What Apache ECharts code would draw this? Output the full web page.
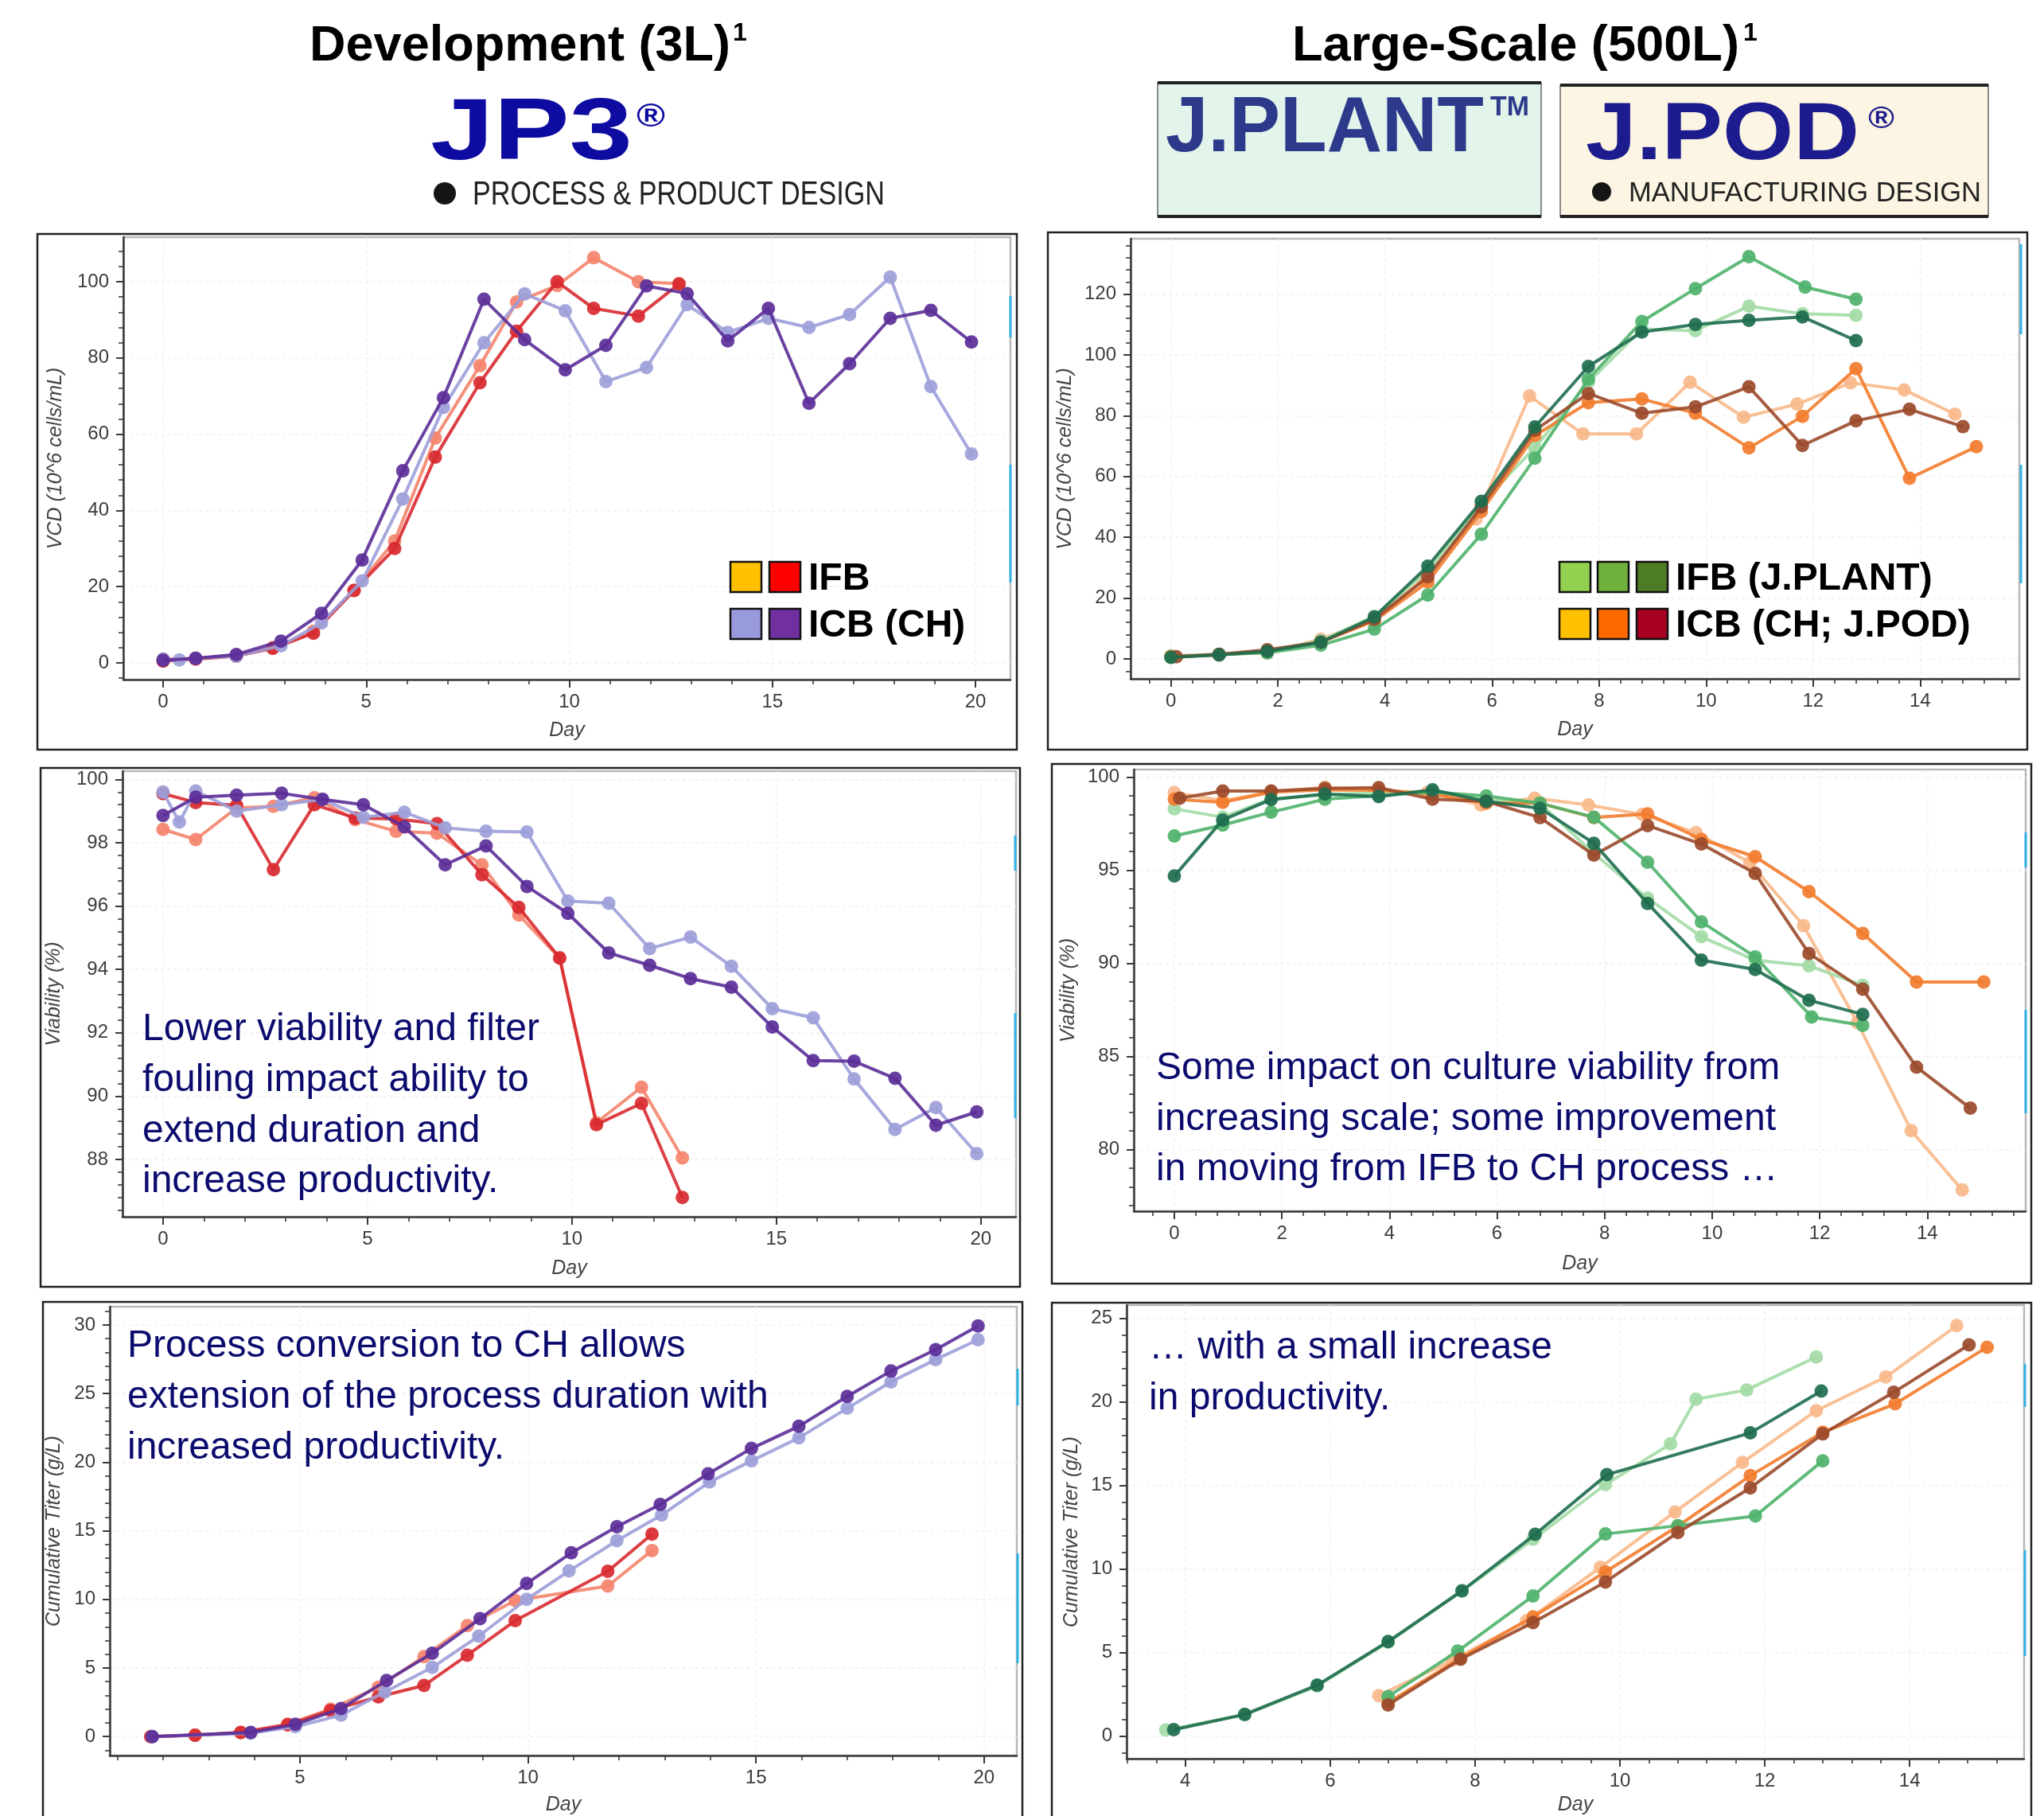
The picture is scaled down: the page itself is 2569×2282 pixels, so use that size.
<!DOCTYPE html>
<html><head><meta charset="utf-8">
<script src="https://cdn.jsdelivr.net/npm/echarts@6/dist/echarts.min.js"></script>
<style>html,body{margin:0;padding:0;background:#fff}#c{width:2569px;height:2282px}</style>
</head><body><div id="c"></div><script>
// ---------------- DATA ----------------
// Tick labels
const devDayTicks = [0, 5, 10, 15, 20];
const lgDayTicks = [0, 2, 4, 6, 8, 10, 12, 14];
const titDevDayTicks = [5, 10, 15, 20];
const titLgDayTicks = [4, 6, 8, 10, 12, 14];
const vcdDevTicks = [0, 20, 40, 60, 80, 100];
const vcdLgTicks = [0, 20, 40, 60, 80, 100, 120];
const viaDevTicks = [88, 90, 92, 94, 96, 98, 100];
const viaLgTicks = [80, 85, 90, 95, 100];
const titDevTicks = [0, 5, 10, 15, 20, 25, 30];
const titLgTicks = [0, 5, 10, 15, 20, 25];

// Development (3L) VCD [day, 10^6 cells/mL]
const vcdDevIFB1 = [[0,1],[0.8,1.2],[1.8,2],[2.7,4],[3.7,8.3],[4.7,19],[5.7,32],[6.7,59],[7.8,78],[8.7,94.7],[9.7,99],[10.6,106.3],[11.7,100],[12.7,99.5]];
const vcdDevIFB2 = [[0,0.5],[0.8,1],[1.8,1.8],[2.7,3.8],[3.7,7.8],[4.7,19],[5.7,30],[6.7,54],[7.8,73.5],[8.7,87],[9.7,100],[10.6,93],[11.7,91],[12.7,99.4]];
const vcdDevICB1 = [[0,1],[0.4,0.8],[0.8,1.2],[1.8,1.8],[2.9,4.5],[3.9,10.5],[4.9,21.5],[5.9,43],[6.9,67],[7.9,84],[8.9,96.8],[9.9,92.4],[10.9,73.8],[11.9,77.5],[12.9,94],[13.9,86.7],[14.9,90.4],[15.9,88],[16.9,91.4],[17.9,101.2],[18.9,72.5],[19.9,54.8]];
const vcdDevICB2 = [[0,0.7],[0.8,1.2],[1.8,2.2],[2.9,5.7],[3.9,13],[4.9,27],[5.9,50.4],[6.9,69.6],[7.9,95.4],[8.9,84.8],[9.9,76.9],[10.9,83.3],[11.9,98.9],[12.9,96.9],[13.9,84.5],[14.9,93],[15.9,68.1],[16.9,78.5],[17.9,90.4],[18.9,92.5],[19.9,84.2]];

// Large-scale (500L) VCD
const vcdLgG1 = [[0,1],[0.9,1.5],[1.8,2.5],[2.8,6],[3.8,14],[4.8,29],[5.8,51],[6.8,69.5],[7.8,91],[8.8,108.5],[9.8,108],[10.8,116],[11.8,113.5],[12.8,113]];
const vcdLgG2 = [[0,0.5],[0.9,1.5],[1.8,2],[2.8,4.5],[3.8,9.8],[4.8,21],[5.8,41],[6.8,66],[7.8,92],[8.8,111],[9.8,121.8],[10.8,132.3],[11.85,122.3],[12.8,118.3]];
const vcdLgG3 = [[0,0.5],[0.9,1.3],[1.8,2.5],[2.8,5.5],[3.8,13.8],[4.8,30.5],[5.8,51.8],[6.8,76.3],[7.8,96.2],[8.8,107.5],[9.8,110],[10.8,111.4],[11.8,112.5],[12.8,104.7]];
const vcdLgO1 = [[0,1],[0.9,1.5],[1.8,2],[2.8,6.5],[3.8,13],[4.7,26],[5.7,46],[6.7,86.5],[7.7,74],[8.7,74],[9.7,91],[10.7,79.5],[11.7,83.8],[12.7,90.8],[13.7,88.5],[14.65,80.5]];
const vcdLgO2 = [[0,0.8],[0.9,1.3],[1.8,2.5],[2.8,5.5],[3.8,12.5],[4.8,25.3],[5.8,48.5],[6.8,73.5],[7.8,84.3],[8.8,85.5],[9.8,80.8],[10.8,69.4],[11.8,79.8],[12.8,95.5],[13.8,59.4],[15.05,69.8]];
const vcdLgO3 = [[0.1,0.7],[0.9,1.5],[1.8,3],[2.8,5.5],[3.8,13],[4.8,27],[5.8,50],[6.8,75.2],[7.8,87.3],[8.8,80.8],[9.8,82.9],[10.8,89.5],[11.8,70.2],[12.8,78.3],[13.8,82.1],[14.8,76.4]];

// Development viability [day, %]
const viaDevIFB1 = [[0,98.42],[0.8,98.1],[1.8,99.1],[2.7,99.15],[3.7,99.42],[4.7,98.73],[5.7,98.36],[6.7,98.3],[7.8,97.3],[8.7,95.72],[9.7,94.36],[10.6,89.16],[11.7,90.28],[12.7,88.05]];
const viaDevIFB2 = [[0,99.55],[0.8,99.27],[1.8,99.18],[2.7,97.15],[3.7,99.2],[4.7,98.78],[5.7,98.75],[6.7,98.6],[7.8,96.99],[8.7,95.96],[9.7,94.36],[10.6,89.1],[11.7,89.77],[12.7,86.8]];
const viaDevICB1 = [[0,99.6],[0.4,98.65],[0.8,99.63],[1.8,99.0],[2.9,99.2],[3.9,99.37],[4.9,98.8],[5.9,98.96],[6.9,98.47],[7.9,98.36],[8.9,98.34],[9.9,96.16],[10.9,96.09],[11.9,94.66],[12.9,95.02],[13.9,94.1],[14.9,92.76],[15.9,92.47],[16.9,90.54],[17.9,88.95],[18.9,89.64],[19.9,88.18]];
const viaDevICB2 = [[0,98.86],[0.8,99.44],[1.8,99.5],[2.9,99.56],[3.9,99.37],[4.9,99.2],[5.9,98.5],[6.9,97.3],[7.9,97.9],[8.9,96.62],[9.9,95.77],[10.9,94.52],[11.9,94.13],[12.9,93.71],[13.9,93.44],[14.9,92.18],[15.9,91.12],[16.9,91.1],[17.9,90.56],[18.9,89.08],[19.9,89.5]];

// Large-scale viability
const viaLgG1 = [[0,98.3],[0.9,97.85],[1.8,98.83],[2.8,99.05],[3.8,99.17],[4.8,99.2],[5.8,98.78],[6.8,98.6],[7.8,95.9],[8.8,93.5],[9.8,91.43],[10.8,90.17],[11.8,89.87],[12.8,88.82]];
const viaLgG2 = [[0,96.84],[0.9,97.43],[1.8,98.12],[2.8,98.82],[3.8,99.01],[4.8,99.2],[5.8,98.99],[6.8,98.6],[7.8,97.85],[8.8,95.43],[9.8,92.23],[10.8,90.35],[11.85,87.12],[12.8,86.67]];
const viaLgG3 = [[0,94.69],[0.9,97.7],[1.8,98.8],[2.8,99.1],[3.8,98.96],[4.8,99.32],[5.8,98.7],[6.8,98.33],[7.8,96.45],[8.8,93.22],[9.8,90.17],[10.8,89.67],[11.8,88.02],[12.8,87.26]];
const viaLgO1 = [[0,99.17],[0.9,98.74],[1.8,99.2],[2.8,99.46],[3.8,99.3],[4.7,99.17],[5.7,98.51],[6.7,98.87],[7.7,98.51],[8.7,98.0],[9.7,97.02],[10.7,95.41],[11.7,92.02],[12.7,86.82],[13.7,81.02],[14.65,77.83]];
const viaLgO2 = [[0,98.82],[0.9,98.65],[1.8,99.2],[2.8,99.32],[3.8,99.3],[4.8,99.1],[5.8,98.6],[6.8,98.6],[7.8,97.83],[8.8,98.03],[9.8,96.66],[10.8,95.73],[11.8,93.85],[12.8,91.61],[13.8,89.0],[15.05,89.0]];
const viaLgO3 = [[0.1,98.87],[0.9,99.26],[1.8,99.26],[2.8,99.4],[3.8,99.44],[4.8,98.82],[5.8,98.7],[6.8,97.83],[7.8,95.82],[8.8,97.4],[9.8,96.41],[10.8,94.83],[11.8,90.53],[12.8,88.61],[13.8,84.43],[14.8,82.22]];

// Development cumulative titer [day, g/L]
const titDevIFB1 = [[1.73,0],[2.7,0.1],[3.7,0.29],[4.73,0.91],[5.67,2.0],[6.72,3.6],[7.72,5.83],[8.67,8.09],[9.72,9.91],[11.75,10.97],[12.72,13.56]];
const titDevIFB2 = [[1.73,0],[2.7,0.1],[3.7,0.3],[4.73,0.85],[5.67,1.9],[6.72,2.9],[7.72,3.72],[8.67,5.93],[9.72,8.45],[11.75,12.05],[12.72,14.76]];
const titDevICB1 = [[1.76,0],[3.92,0.25],[4.9,0.72],[5.9,1.56],[6.86,3.24],[7.9,5.04],[8.92,7.32],[9.97,10.0],[10.9,12.07],[11.95,14.28],[12.93,16.15],[13.98,18.55],[14.9,20.09],[15.94,21.77],[17.0,23.93],[17.96,25.85],[18.94,27.48],[19.87,28.92]];
const titDevICB2 = [[1.76,0],[3.92,0.3],[4.9,0.89],[5.9,2.04],[6.9,4.08],[7.9,6.07],[8.95,8.59],[9.97,11.16],[10.95,13.39],[11.95,15.29],[12.9,16.92],[13.95,19.15],[14.9,21.0],[15.94,22.61],[17.0,24.79],[17.96,26.64],[18.94,28.2],[19.87,29.93]];

// Large-scale cumulative titer
const titLgG1 = [[3.73,0.36],[4.82,1.28],[5.82,3.0],[6.8,5.62],[7.82,8.68],[8.8,11.78],[9.8,15.06],[10.7,17.5],[11.05,20.17],[11.75,20.72],[12.71,22.69]];
const titLgG2 = [[6.8,2.37],[7.76,5.09],[8.8,8.39],[9.8,12.1],[10.8,12.6],[11.87,13.18],[12.8,16.48]];
const titLgG3 = [[3.84,0.39],[4.82,1.3],[5.82,3.05],[6.8,5.66],[7.82,8.7],[8.83,12.08],[9.82,15.65],[11.8,18.15],[12.78,20.66]];
const titLgO1 = [[6.67,2.43],[7.69,4.54],[8.71,6.9],[9.73,10.1],[10.76,13.42],[11.69,16.38],[12.71,19.48],[13.67,21.5],[14.65,24.57]];
const titLgO2 = [[6.8,2.01],[7.8,4.68],[8.8,7.14],[9.8,9.83],[10.8,12.57],[11.8,15.59],[12.8,18.19],[13.8,19.89],[15.07,23.28]];
const titLgO3 = [[6.8,1.87],[7.8,4.6],[8.8,6.8],[9.8,9.23],[10.8,12.19],[11.8,14.86],[12.8,18.09],[13.78,20.58],[14.82,23.42]];

// ---------------- STYLE / LAYOUT ----------------
const FONT = '"Liberation Sans", Arial, Helvetica, sans-serif';
const cIFB1 = '#f4846c', cIFB2 = '#d82a30', cICB1 = '#9d9fd9', cICB2 = '#5b2e98';
const cG1 = '#a3dba6', cG2 = '#4fb26c', cG3 = '#1e6d4e';
const cO1 = '#f9b98a', cO2 = '#f27c2e', cO3 = '#9b4a2b';
const NAVY = '#0b0b6e';

const devSeries = (a, b, c, d) => [
  { data: a, color: cIFB1 }, { data: b, color: cIFB2 }, { data: c, color: cICB1 }, { data: d, color: cICB2 }];
const lgSeries = (g1, g2, g3, o1, o2, o3) => [
  { data: o1, color: cO1 }, { data: g1, color: cG1 }, { data: o2, color: cO2 }, { data: g2, color: cG2 },
  { data: o3, color: cO3 }, { data: g3, color: cG3 }];

const panels = [
  { grid: { left: 155, top: 298, width: 1115, height: 556 }, x: [-0.98, 20.86], xMajor: devDayTicks, xStep: 1,
    y: [-4.38, 111.7], yMajor: vcdDevTicks, yStep: 4, yName: 'VCD (10^6 cells/mL)', yGap: 72, xGap: 52,
    series: devSeries(vcdDevIFB1, vcdDevIFB2, vcdDevICB1, vcdDevICB2) },
  { grid: { left: 1421, top: 300, width: 1117, height: 553 }, x: [-0.754, 15.853], xMajor: lgDayTicks, xStep: 0.4,
    y: [-6.54, 138.2], yMajor: vcdLgTicks, yStep: 4, yName: 'VCD (10^6 cells/mL)', yGap: 69, xGap: 52,
    series: lgSeries(vcdLgG1, vcdLgG2, vcdLgG3, vcdLgO1, vcdLgO2, vcdLgO3) },
  { grid: { left: 154, top: 969, width: 1123, height: 560 }, x: [-0.99, 20.86], xMajor: devDayTicks, xStep: 1,
    y: [86.19, 100.26], yMajor: viaDevTicks, yStep: 0.4, yName: 'Viability (%)', yGap: 73, xGap: 53,
    series: devSeries(viaDevIFB1, viaDevIFB2, viaDevICB1, viaDevICB2) },
  { grid: { left: 1425, top: 967, width: 1121, height: 555 }, x: [-0.754, 15.83], xMajor: lgDayTicks, xStep: 0.4,
    y: [76.69, 100.41], yMajor: viaLgTicks, yStep: 1, yName: 'Viability (%)', yGap: 69, xGap: 54,
    series: lgSeries(viaLgG1, viaLgG2, viaLgG3, viaLgO1, viaLgO2, viaLgO3) },
  { grid: { left: 138, top: 1642, width: 1140, height: 570 }, x: [0.83, 20.72], xMajor: titDevDayTicks, xStep: 1,
    y: [-1.38, 31.33], yMajor: titDevTicks, yStep: 1, yName: 'Cumulative Titer (g/L)', yGap: 57, xGap: 50,
    series: devSeries(titDevIFB1, titDevIFB2, titDevICB1, titDevICB2) },
  { grid: { left: 1416, top: 1640, width: 1128, height: 570 }, x: [3.19, 15.58], xMajor: titLgDayTicks, xStep: 0.4,
    y: [-1.35, 25.8], yMajor: titLgTicks, yStep: 1, yName: 'Cumulative Titer (g/L)', yGap: 56, xGap: 46,
    series: lgSeries(titLgG1, titLgG2, titLgG3, titLgO1, titLgO2, titLgO3) }
];

function range(min, max, step) {
  const out = [];
  for (let k = Math.ceil(min / step - 1e-9); ; k++) {
    const v = Math.round(k * step * 1000) / 1000;
    if (v > max + 1e-9) break;
    out.push(v);
  }
  return out;
}

const AX = '#3a3a3a';
const grids = [], xAxes = [], yAxes = [], series = [];
panels.forEach((p, i) => {
  grids.push(Object.assign({ show: true, borderColor: '#b8b8b8', borderWidth: 2.5, containLabel: false }, p.grid));
  const nameStyle = { fontFamily: FONT, fontStyle: 'italic', fontSize: 25, color: '#444' };
  xAxes.push({
    gridIndex: i, type: 'value', min: p.x[0], max: p.x[1], position: 'bottom',
    name: 'Day', nameLocation: 'middle', nameGap: p.xGap, nameTextStyle: nameStyle,
    axisLine: { show: true, onZero: false, lineStyle: { color: AX, width: 2.5 } },
    axisTick: { show: true, customValues: p.xMajor, length: 10, lineStyle: { color: AX, width: 2 } },
    axisLabel: { show: true, customValues: p.xMajor, margin: 16, fontFamily: FONT, fontSize: 24, color: '#3c3c3c' },
    splitLine: { show: true, lineStyle: { color: '#f1f1f1', width: 1.5, type: [4, 4] } }
  });
  xAxes.push({
    gridIndex: i, type: 'value', min: p.x[0], max: p.x[1], position: 'bottom',
    axisLine: { show: false, onZero: false },
    axisTick: { show: true, customValues: range(p.x[0], p.x[1], p.xStep), length: 6, lineStyle: { color: AX, width: 1.6 } },
    axisLabel: { show: false }, splitLine: { show: false }
  });
  yAxes.push({
    gridIndex: i, type: 'value', min: p.y[0], max: p.y[1], position: 'left',
    name: p.yName, nameLocation: 'middle', nameGap: p.yGap, nameTextStyle: nameStyle,
    axisLine: { show: true, onZero: false, lineStyle: { color: AX, width: 2.5 } },
    axisTick: { show: true, customValues: p.yMajor, length: 9, lineStyle: { color: AX, width: 2 } },
    axisLabel: { show: true, customValues: p.yMajor, margin: 18, fontFamily: FONT, fontSize: 24, color: '#3c3c3c' },
    splitLine: { show: true, lineStyle: { color: '#f1f1f1', width: 1.5, type: [4, 4] } }
  });
  yAxes.push({
    gridIndex: i, type: 'value', min: p.y[0], max: p.y[1], position: 'left',
    axisLine: { show: false, onZero: false },
    axisTick: { show: true, customValues: range(p.y[0], p.y[1], p.yStep), length: 6, lineStyle: { color: AX, width: 1.6 } },
    axisLabel: { show: false }, splitLine: { show: false }
  });
  p.series.forEach((s, k) => {
    series.push({
      type: 'line', xAxisIndex: 2 * i, yAxisIndex: 2 * i, data: s.data, z: 3 + k,
      symbol: 'circle', symbolSize: 17, showSymbol: true, animation: false,
      lineStyle: { color: s.color, width: 4, opacity: 0.9 },
      itemStyle: { color: s.color, opacity: 0.92 }
    });
  });
});

// --------------- Graphic (headers, frames, notes) ---------------
const mctx = document.createElement('canvas').getContext('2d');
function txt(text, left, cy, o) {
  const size = o.size, weight = o.weight || 'normal', fstyle = o.style || 'normal';
  let sx = 1;
  if (o.width) {
    mctx.font = fstyle + ' ' + weight + ' ' + size + 'px "Liberation Sans"';
    sx = o.width / mctx.measureText(text).width;
  }
  return { type: 'text', x: left, y: cy, scaleX: sx, z: o.z || 60,
    style: { text: text, fill: o.color || '#000', fontSize: size, fontWeight: weight, fontStyle: fstyle,
      fontFamily: FONT, align: 'left', verticalAlign: 'middle', textAlign: 'left', textVerticalAlign: 'middle' } };
}
function rect(x, y, w, h, fill, stroke, lw, z) {
  return { type: 'rect', shape: { x: x, y: y, width: w, height: h }, z: z || 1,
    style: { fill: fill || 'none', stroke: stroke || null, lineWidth: lw || 0 } };
}
function line(x1, y1, x2, y2, color, lw, z) {
  return { type: 'line', shape: { x1: x1, y1: y1, x2: x2, y2: y2 }, z: z || 2, style: { stroke: color, lineWidth: lw } };
}
function dot(cx, cy, r, color) {
  return { type: 'circle', shape: { cx: cx, cy: cy, r: r }, z: 5, style: { fill: color } };
}

const G = [];
// section titles
G.push(txt('Development (3L)', 389, 59, { size: 63, weight: 'bold', width: 529 }));
G.push(txt('1', 921, 42, { size: 32, weight: 'bold' }));
G.push(txt('Large-Scale (500L)', 1624, 59, { size: 63, weight: 'bold', width: 562 }));
G.push(txt('1', 2191, 42, { size: 32, weight: 'bold' }));
// JP3 logo
G.push(txt('JP3', 541, 170, { size: 110, weight: 'bold', width: 254, color: '#0d0ba0' }));
G.push(txt('®', 800, 148, { size: 40, weight: 'bold', width: 36, color: '#0d0ba0' }));
G.push(dot(559, 243, 14, '#151515'));
G.push(txt('PROCESS & PRODUCT DESIGN', 594, 245, { size: 43, width: 518, color: '#222' }));
// J.PLANT box
G.push(rect(1455, 104, 482, 168, '#e3f4ea', '#666', 1.5, 1));
G.push(line(1455, 104, 1937, 104, '#222', 4, 3));
G.push(line(1455, 272, 1937, 272, '#222', 4, 3));
G.push(txt('J.PLANT', 1465, 163, { size: 99, weight: 'bold', width: 400, color: '#2d3a8c' }));
G.push(txt('TM', 1873, 135, { size: 35, weight: 'bold', width: 49, color: '#2d3a8c' }));
// J.POD box
G.push(rect(1961, 107, 538, 165, '#fdf5e3', '#666', 1.5, 1));
G.push(line(1961, 107, 2499, 107, '#222', 4, 3));
G.push(line(1961, 272, 2499, 272, '#222', 4, 3));
G.push(txt('J.POD', 1993, 172, { size: 102, weight: 'bold', width: 344, color: '#1c1c8e' }));
G.push(txt('®', 2348, 151, { size: 38, weight: 'bold', width: 33, color: '#1c1c8e' }));
G.push(dot(2013, 241, 12, '#151515'));
G.push(txt('MANUFACTURING DESIGN', 2047, 243, { size: 35, width: 443, color: '#222' }));

// panel frames
G.push(rect(47, 294, 1231, 648, 'none', '#222', 2.5, 2));
G.push(rect(1317, 292, 1231, 650, 'none', '#222', 2.5, 2));
G.push(rect(51, 965, 1231, 652, 'none', '#222', 2.5, 2));
G.push(rect(1322, 960, 1231, 653, 'none', '#222', 2.5, 2));
G.push(rect(54, 1636, 1231, 700, 'none', '#222', 2.5, 2));
G.push(rect(1322, 1637, 1231, 700, 'none', '#222', 2.5, 2));

// cyan edge marks
const CY = '#33b2e6';
[[1270, 372, 424], [1270, 584, 732], [2540, 307, 420], [2540, 584, 733],
 [1276, 1050, 1094], [1276, 1273, 1405], [2546, 1046, 1090], [2546, 1269, 1399],
 [1279, 1720, 1766], [1279, 1952, 2090], [2545, 1714, 1768], [2545, 1948, 2081]]
  .forEach(c => G.push(line(c[0], c[1], c[0], c[2], CY, 3, 40)));

// legends
function sq(x, y, c) { return rect(x, y, 39, 38, c, '#111', 2.5, 50); }
G.push(sq(918, 706, '#ffc000'), sq(967, 706, '#ff0000'), sq(918, 765, '#9999dd'), sq(967, 765, '#7030a0'));
G.push(txt('IFB', 1016, 728, { size: 48, weight: 'bold' }));
G.push(txt('ICB (CH)', 1016, 787, { size: 48, weight: 'bold' }));
G.push(sq(1960, 706, '#92d050'), sq(2008, 706, '#70b03c'), sq(2057, 706, '#4e7b25'));
G.push(sq(1960, 765, '#ffc000'), sq(2008, 765, '#ff6a00'), sq(2057, 765, '#a50021'));
G.push(txt('IFB (J.PLANT)', 2106, 728, { size: 48, weight: 'bold' }));
G.push(txt('ICB (CH; J.POD)', 2106, 787, { size: 48, weight: 'bold' }));

// annotations
const noteC = ['Lower viability and filter', 'fouling impact ability to', 'extend duration and', 'increase productivity.'];
noteC.forEach((t, k) => G.push(txt(t, 179, 1294 + k * 63.7, { size: 48, color: NAVY })));
const noteD = ['Some impact on culture viability from', 'increasing scale; some improvement', 'in moving from IFB to CH process \u2026'];
noteD.forEach((t, k) => G.push(txt(t, 1453, 1343 + k * 63.5, { size: 48, color: NAVY })));
const noteE = ['Process conversion to CH allows', 'extension of the process duration with', 'increased productivity.'];
noteE.forEach((t, k) => G.push(txt(t, 160, 1692 + k * 63.7, { size: 48, color: NAVY })));
const noteF = ['\u2026 with a small increase', 'in productivity.'];
noteF.forEach((t, k) => G.push(txt(t, 1444, 1694 + k * 63.7, { size: 48, color: NAVY })));

const chart = echarts.init(document.getElementById('c'), null, { renderer: 'canvas' });
chart.setOption({
  animation: false,
  backgroundColor: '#ffffff',
  grid: grids, xAxis: xAxes, yAxis: yAxes, series: series,
  graphic: { elements: G }
});
</script></body></html>
